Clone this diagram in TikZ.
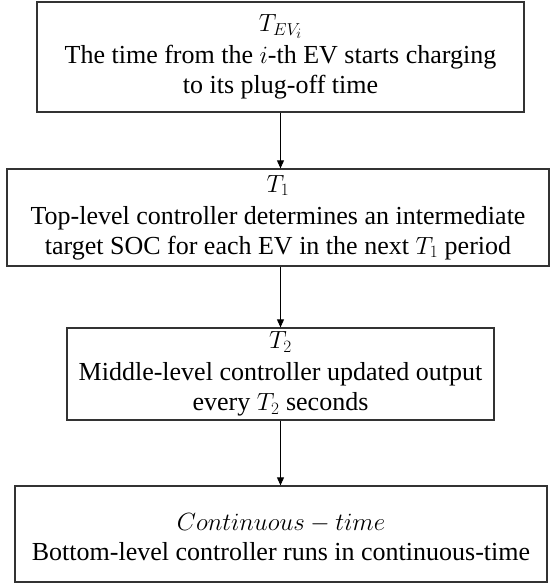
\documentclass[tikz,border=0pt]{standalone}
\usepackage{fontspec}
\setmainfont{Liberation Serif}[Ligatures=TeX]
\usetikzlibrary{arrows.meta}
% larger sub- and superscripts at the label size
\DeclareMathSizes{26}{26}{19}{15}
\tikzset{
  stage/.style={draw=black!80, line width=1.3pt, rectangle, inner sep=0pt},
  stagetext/.style={align=center, inner sep=0pt, font=\fontsize{26}{30}\selectfont},
  flow/.style={draw=black, line width=0.9pt, -{Triangle[width=7pt,length=8pt]}}
}
\begin{document}
\begin{tikzpicture}[x=1pt,y=1pt]
  \useasboundingbox (0,0) rectangle (551,-585);
  % stage boxes
  \node[stage, minimum width=487pt, minimum height=110pt] (b1) at (280.5,-57) {};
  \node[stage, minimum width=542pt, minimum height=97pt] (b2) at (278,-217.5) {};
  \node[stage, minimum width=427pt, minimum height=92pt] (b3) at (280.5,-374) {};
  \node[stage, minimum width=532pt, minimum height=96pt] (b4) at (281,-534) {};
  % stage descriptions
  \node[stagetext] (t1) at (b1.center) {$T_{EV_i}$\\[2pt]The time from the $i$-th EV starts charging\\to its plug-off time};
  \node[stagetext] (t2) at (b2.center) {$T_1$\\[2pt]Top-level controller determines an intermediate\\target SOC for each EV in the next $T_1$ period};
  \node[stagetext] (t3) at (b3.center) {$T_2$\\[2pt]Middle-level controller updated output\\every $T_2$ seconds};
  \node[stagetext] (t4) at ([yshift=-3pt]b4.center) {$Continuous-time$\\Bottom-level controller runs in continuous-time};
  % connectors
  \draw[flow] (b1.south) -- (b1.south |- b2.north);
  \draw[flow] (b1.south |- b2.south) -- (b1.south |- b3.north);
  \draw[flow] (b1.south |- b3.south) -- (b1.south |- b4.north);
\end{tikzpicture}
\end{document}
